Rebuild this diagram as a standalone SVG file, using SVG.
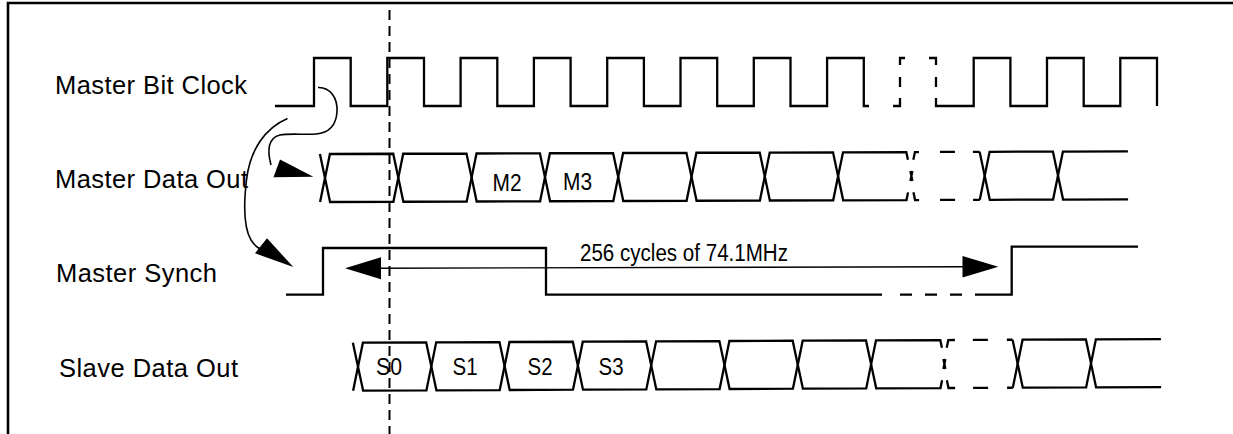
<svg xmlns="http://www.w3.org/2000/svg" width="1233" height="434" viewBox="0 0 1233 434">
<style>
.sig{fill:none;stroke:#000;stroke-width:2.3;stroke-linejoin:miter;stroke-linecap:butt}
.thin{fill:none;stroke:#000;stroke-width:1.4}
.curve{fill:none;stroke:#000;stroke-width:1.6}
.head{fill:#000;stroke:none}
.lbl{font-family:"Liberation Sans",Arial,sans-serif;font-size:25.5px;fill:#000}
.cell{font-family:"Liberation Sans",Arial,sans-serif;font-size:24px;fill:#000;text-anchor:middle}
.dim{font-family:"Liberation Sans",Arial,sans-serif;font-size:23px;fill:#000}
</style>
<rect x="0" y="0" width="1233" height="434" fill="#fff"/>
<path d="M8,434 V3 H1233" fill="none" stroke="#000" stroke-width="2.6"/>
<line id="marker-line" x1="389.5" y1="10" x2="389.5" y2="434" stroke="#000" stroke-width="2" stroke-dasharray="10,6"/>

<g id="labels">
<text class="lbl" x="55" y="94.3" textLength="192">Master Bit Clock</text>
<text class="lbl" x="55" y="188.3" textLength="193">Master Data Out</text>
<text class="lbl" x="56" y="281.7" textLength="161">Master Synch</text>
<text class="lbl" x="59" y="377.3" textLength="179">Slave Data Out</text>
</g>

<g id="clock">
<path class="sig" d="M275,106 H314 V58 H350.7 V106 H387.3 V58 H424 V106 H460.6 V58 H497.3 V106 H533.9 V58 H570.6 V106 H607.2 V58 H643.9 V106 H680.5 V58 H717.2 V106 H753.8 V58 H790.5 V106 H827.1 V58 H863.8 V106 H869"/>
<path class="sig" d="M893,106 H900 V98 M900,87 V77 M900,65 V58 H905 M929,58 H936 V65 M936,77 V87 M936,98 V106 H973.7 V58 H1010.4 V106 H1047 V58 H1083.7 V106 H1120.3 V58 H1157 V106"/>
</g>

<g id="master-data" transform="rotate(-0.19 325 178)">
<path class="sig" d="M320,154 L325,178 L320,202"/>
<path class="sig" d="M325,178 L330,154 H393.3 L398.3,178 L393.3,202 H330 Z"/>
<path class="sig" d="M398.3,178 L403.3,154 H466.6 L471.6,178 L466.6,202 H403.3 Z"/>
<path class="sig" d="M471.6,178 L476.6,154 H540 L545,178 L540,202 H476.6 Z"/>
<path class="sig" d="M545,178 L550,154 H613.2 L618.2,178 L613.2,202 H550 Z"/>
<path class="sig" d="M618.2,178 L623.2,154 H686.5 L691.5,178 L686.5,202 H623.2 Z"/>
<path class="sig" d="M691.5,178 L696.5,154 H759.8 L764.8,178 L759.8,202 H696.5 Z"/>
<path class="sig" d="M764.8,178 L769.8,154 H833.1 L838.1,178 L833.1,202 H769.8 Z"/>
<path class="sig" d="M838.1,178 L843.1,154 H906.4 L908,161.7 M838.1,178 L843.1,202 H906.4 L908,194.3"/>
<path class="sig" d="M910.4,173 L912.4,183 M912.4,173 L910.4,183"/>
<path class="sig" d="M913.4,161.7 L915,154 H919 M913.4,194.3 L915,202 H919"/>
<path class="sig" d="M940,154 H955 M940,202 H955 M973,154 H979.7 M973,202 H979.7"/>
<path class="sig" d="M979.7,154 L984.7,178 L979.7,202"/>
<path class="sig" d="M984.7,178 L989.7,154 H1053 L1058,178 L1053,202 H989.7 Z"/>
<path class="sig" d="M1058,178 L1063,154 H1128 M1058,178 L1063,202 H1128"/>
</g>
<g id="master-data-text">
<text class="cell" x="507" y="190.5" textLength="29" lengthAdjust="spacingAndGlyphs">M2</text>
<text class="cell" x="577.5" y="190.3" textLength="29" lengthAdjust="spacingAndGlyphs">M3</text>
</g>

<g id="synch">
<path class="sig" d="M286,294.7 H323 V248 H546 V294.7 H882"/>
<path class="sig" d="M900,294.7 H912 M925,294.7 H937 M950,294.7 H962 M975,294.7 H1011.7 V246.7 H1138"/>
</g>

<g id="dimension">
<line class="thin" x1="378" y1="268.2" x2="965" y2="266.8"/>
<polygon class="head" points="345,268.3 381,257.3 381,279.3"/>
<polygon class="head" points="998.3,266.7 962.5,256 962.5,277.5"/>
<text class="dim" x="580" y="260.7" textLength="208" lengthAdjust="spacingAndGlyphs">256 cycles of 74.1MHz</text>
</g>

<g id="slave-data" transform="rotate(-0.26 358 366.7)">
<path class="sig" d="M353,342.7 L358,366.7 L353,390.7"/>
<path class="sig" d="M358,366.7 L363,342.7 H426.3 L431.3,366.7 L426.3,390.7 H363 Z"/>
<path class="sig" d="M431.3,366.7 L436.3,342.7 H499.6 L504.6,366.7 L499.6,390.7 H436.3 Z"/>
<path class="sig" d="M504.6,366.7 L509.6,342.7 H572.9 L577.9,366.7 L572.9,390.7 H509.6 Z"/>
<path class="sig" d="M577.9,366.7 L582.9,342.7 H646.2 L651.2,366.7 L646.2,390.7 H582.9 Z"/>
<path class="sig" d="M651.2,366.7 L656.2,342.7 H719.5 L724.5,366.7 L719.5,390.7 H656.2 Z"/>
<path class="sig" d="M724.5,366.7 L729.5,342.7 H792.8 L797.8,366.7 L792.8,390.7 H729.5 Z"/>
<path class="sig" d="M797.8,366.7 L802.8,342.7 H866.1 L871.1,366.7 L866.1,390.7 H802.8 Z"/>
<path class="sig" d="M871.1,366.7 L876.1,342.7 H940.4 L942,350.4 M871.1,366.7 L876.1,390.7 H940.4 L942,383"/>
<path class="sig" d="M943.4,361.7 L945.4,371.7 M945.4,361.7 L943.4,371.7"/>
<path class="sig" d="M946.8,350.4 L948.4,342.7 H955 M946.8,383 L948.4,390.7 H955"/>
<path class="sig" d="M973,342.7 H988 M973,390.7 H988 M1007,342.7 H1012.7 M1007,390.7 H1012.7"/>
<path class="sig" d="M1012.7,342.7 L1017.7,366.7 L1012.7,390.7"/>
<path class="sig" d="M1017.7,366.7 L1022.7,342.7 H1086 L1091,366.7 L1086,390.7 H1022.7 Z"/>
<path class="sig" d="M1091,366.7 L1096,342.7 H1161 M1091,366.7 L1096,390.7 H1161"/>
</g>
<g id="slave-data-text">
<text class="cell" x="389" y="375" textLength="26" lengthAdjust="spacingAndGlyphs">S0</text>
<text class="cell" x="465" y="375" textLength="25" lengthAdjust="spacingAndGlyphs">S1</text>
<text class="cell" x="540" y="374.7" textLength="25" lengthAdjust="spacingAndGlyphs">S2</text>
<text class="cell" x="611" y="374.5" textLength="25" lengthAdjust="spacingAndGlyphs">S3</text>
</g>

<g id="connectors">
<path class="curve" d="M318,87.5 C330,87 338,98 337,112 C336,126 328,133 316,134 C305,135 290,133 280,135 C268,138 267,150 271,165"/>
<polygon class="head" points="313.3,176.7 280,159.5 273.5,177.3"/>
<path class="curve" d="M287.5,118.5 C265,128 250,150 246.5,180 C243.5,205 244,228 251,240 C255,246 259,249 262,249"/>
<polygon class="head" points="293.3,267 255,253.3 267,238.3"/>
</g>
</svg>
